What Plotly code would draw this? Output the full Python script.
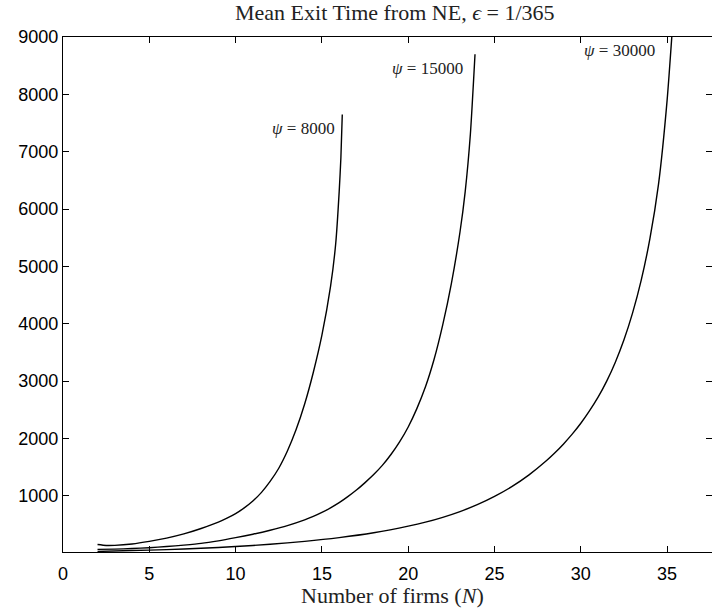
import plotly.graph_objects as go

# ---- data ----
n_8000 = [2, 2.5, 3, 4, 5, 6, 7, 8, 9, 9.5, 10, 10.5, 11, 11.5, 12, 12.5, 13, 13.5, 14,
          14.5, 15, 15.5, 15.8, 16.0, 16.1, 16.18]
t_8000 = [150, 134, 136, 160, 205, 262, 335, 430, 540, 610, 690, 790, 910, 1060, 1250,
          1480, 1780, 2150, 2600, 3150, 3800, 4650, 5400, 6300, 6900, 7650]

n_15000 = [2, 3, 4, 5, 6, 7, 8, 9, 10, 11, 12, 13, 14, 14.5, 15, 15.5, 16, 16.5, 17,
           17.5, 18, 18.5, 19, 19.5, 20, 20.5, 21, 21.5, 22, 22.5, 23, 23.3, 23.6, 23.87]
t_15000 = [65, 70, 80, 95, 115, 140, 170, 215, 270, 330, 400, 480, 580, 640, 710, 790,
           880, 985, 1100, 1230, 1370, 1530, 1720, 1940, 2200, 2520, 2900, 3380, 3980,
           4700, 5600, 6300, 7300, 8700]

n_30000 = [2, 4, 6, 8, 10, 12, 14, 16, 18, 20, 21, 22, 23, 24, 25, 26, 27, 28, 28.5, 29,
           29.5, 30, 30.5, 31, 31.5, 32, 32.5, 33, 33.5, 34, 34.5, 35, 35.5]
t_30000 = [30, 45, 62, 85, 115, 155, 205, 270, 355, 470, 540, 625, 725, 845, 990, 1160,
           1365, 1610, 1750, 1905, 2075, 2265, 2480, 2720, 3000, 3330, 3720, 4190, 4760,
           5480, 6430, 7900, 10000]

x_ticks = [0, 5, 10, 15, 20, 25, 30, 35]
y_ticks = [1000, 2000, 3000, 4000, 5000, 6000, 7000, 8000, 9000]

title_text = "Mean Exit Time from NE, <i>ϵ</i> = 1/365"
xlabel_text = "Number of firms (<i>N</i>)"
labels = ["<i>ψ</i> = 8000", "<i>ψ</i> = 15000", "<i>ψ</i> = 30000"]

SERIF = "Liberation Serif, DejaVu Serif, serif"
SANS = "Liberation Sans, Arial, sans-serif"

fig = go.Figure()
for xs, ys in [(n_8000, t_8000), (n_15000, t_15000), (n_30000, t_30000)]:
    fig.add_trace(go.Scatter(x=xs, y=ys, mode="lines",
                             line=dict(color="black", width=1.4, shape="spline", smoothing=0.6),
                             showlegend=False, hoverinfo="skip"))

label_pos = [(15.9, 7400), (23.3, 8450), (34.4, 8770)]
for (lx, ly), txt in zip(label_pos, labels):
    fig.add_annotation(x=lx, y=ly, text=txt, showarrow=False, xanchor="right",
                       yanchor="middle", font=dict(family=SERIF, size=17, color="#222"))

fig.add_annotation(xref="paper", yref="paper", x=0.507, y=-0.085, text=xlabel_text,
                   showarrow=False, xanchor="center", yanchor="middle",
                   font=dict(family=SERIF, size=22, color="#222"))

axis_common = dict(ticks="inside", ticklen=6, tickcolor="black", showgrid=False,
                   zeroline=False)

fig.update_layout(
    width=712, height=608,
    margin=dict(l=63, r=0, t=37, b=56),
    paper_bgcolor="white", plot_bgcolor="white",
    title=dict(text=title_text, x=0.5545, xref="container", xanchor="center",
               y=1 - 12 / 608, yref="container", yanchor="middle",
               font=dict(family=SERIF, size=22, color="#222")),
    xaxis=dict(range=[0, 37.6], tickvals=x_ticks, showline=True, linecolor="black",
               linewidth=1.3, mirror="ticks", ticklabelstandoff=5,
               tickfont=dict(family=SANS, size=18, color="black"), **axis_common),
    yaxis=dict(range=[20, 9000], tickvals=y_ticks, showline=True, linecolor="black",
               linewidth=1.3, mirror=False,
               tickfont=dict(family=SANS, size=18, color="black"), **axis_common),
    yaxis2=dict(range=[20, 9000], tickvals=y_ticks, overlaying="y", side="right",
                showline=False, showticklabels=False, **axis_common),
)
# invisible helper trace so the right-hand tick marks are drawn
fig.add_trace(go.Scatter(x=[None], y=[None], yaxis="y2", showlegend=False,
                         hoverinfo="skip"))

fig.write_html("out.html", config={"displayModeBar": False},
               post_script="document.body.style.margin='0';document.body.style.overflow='hidden';")
